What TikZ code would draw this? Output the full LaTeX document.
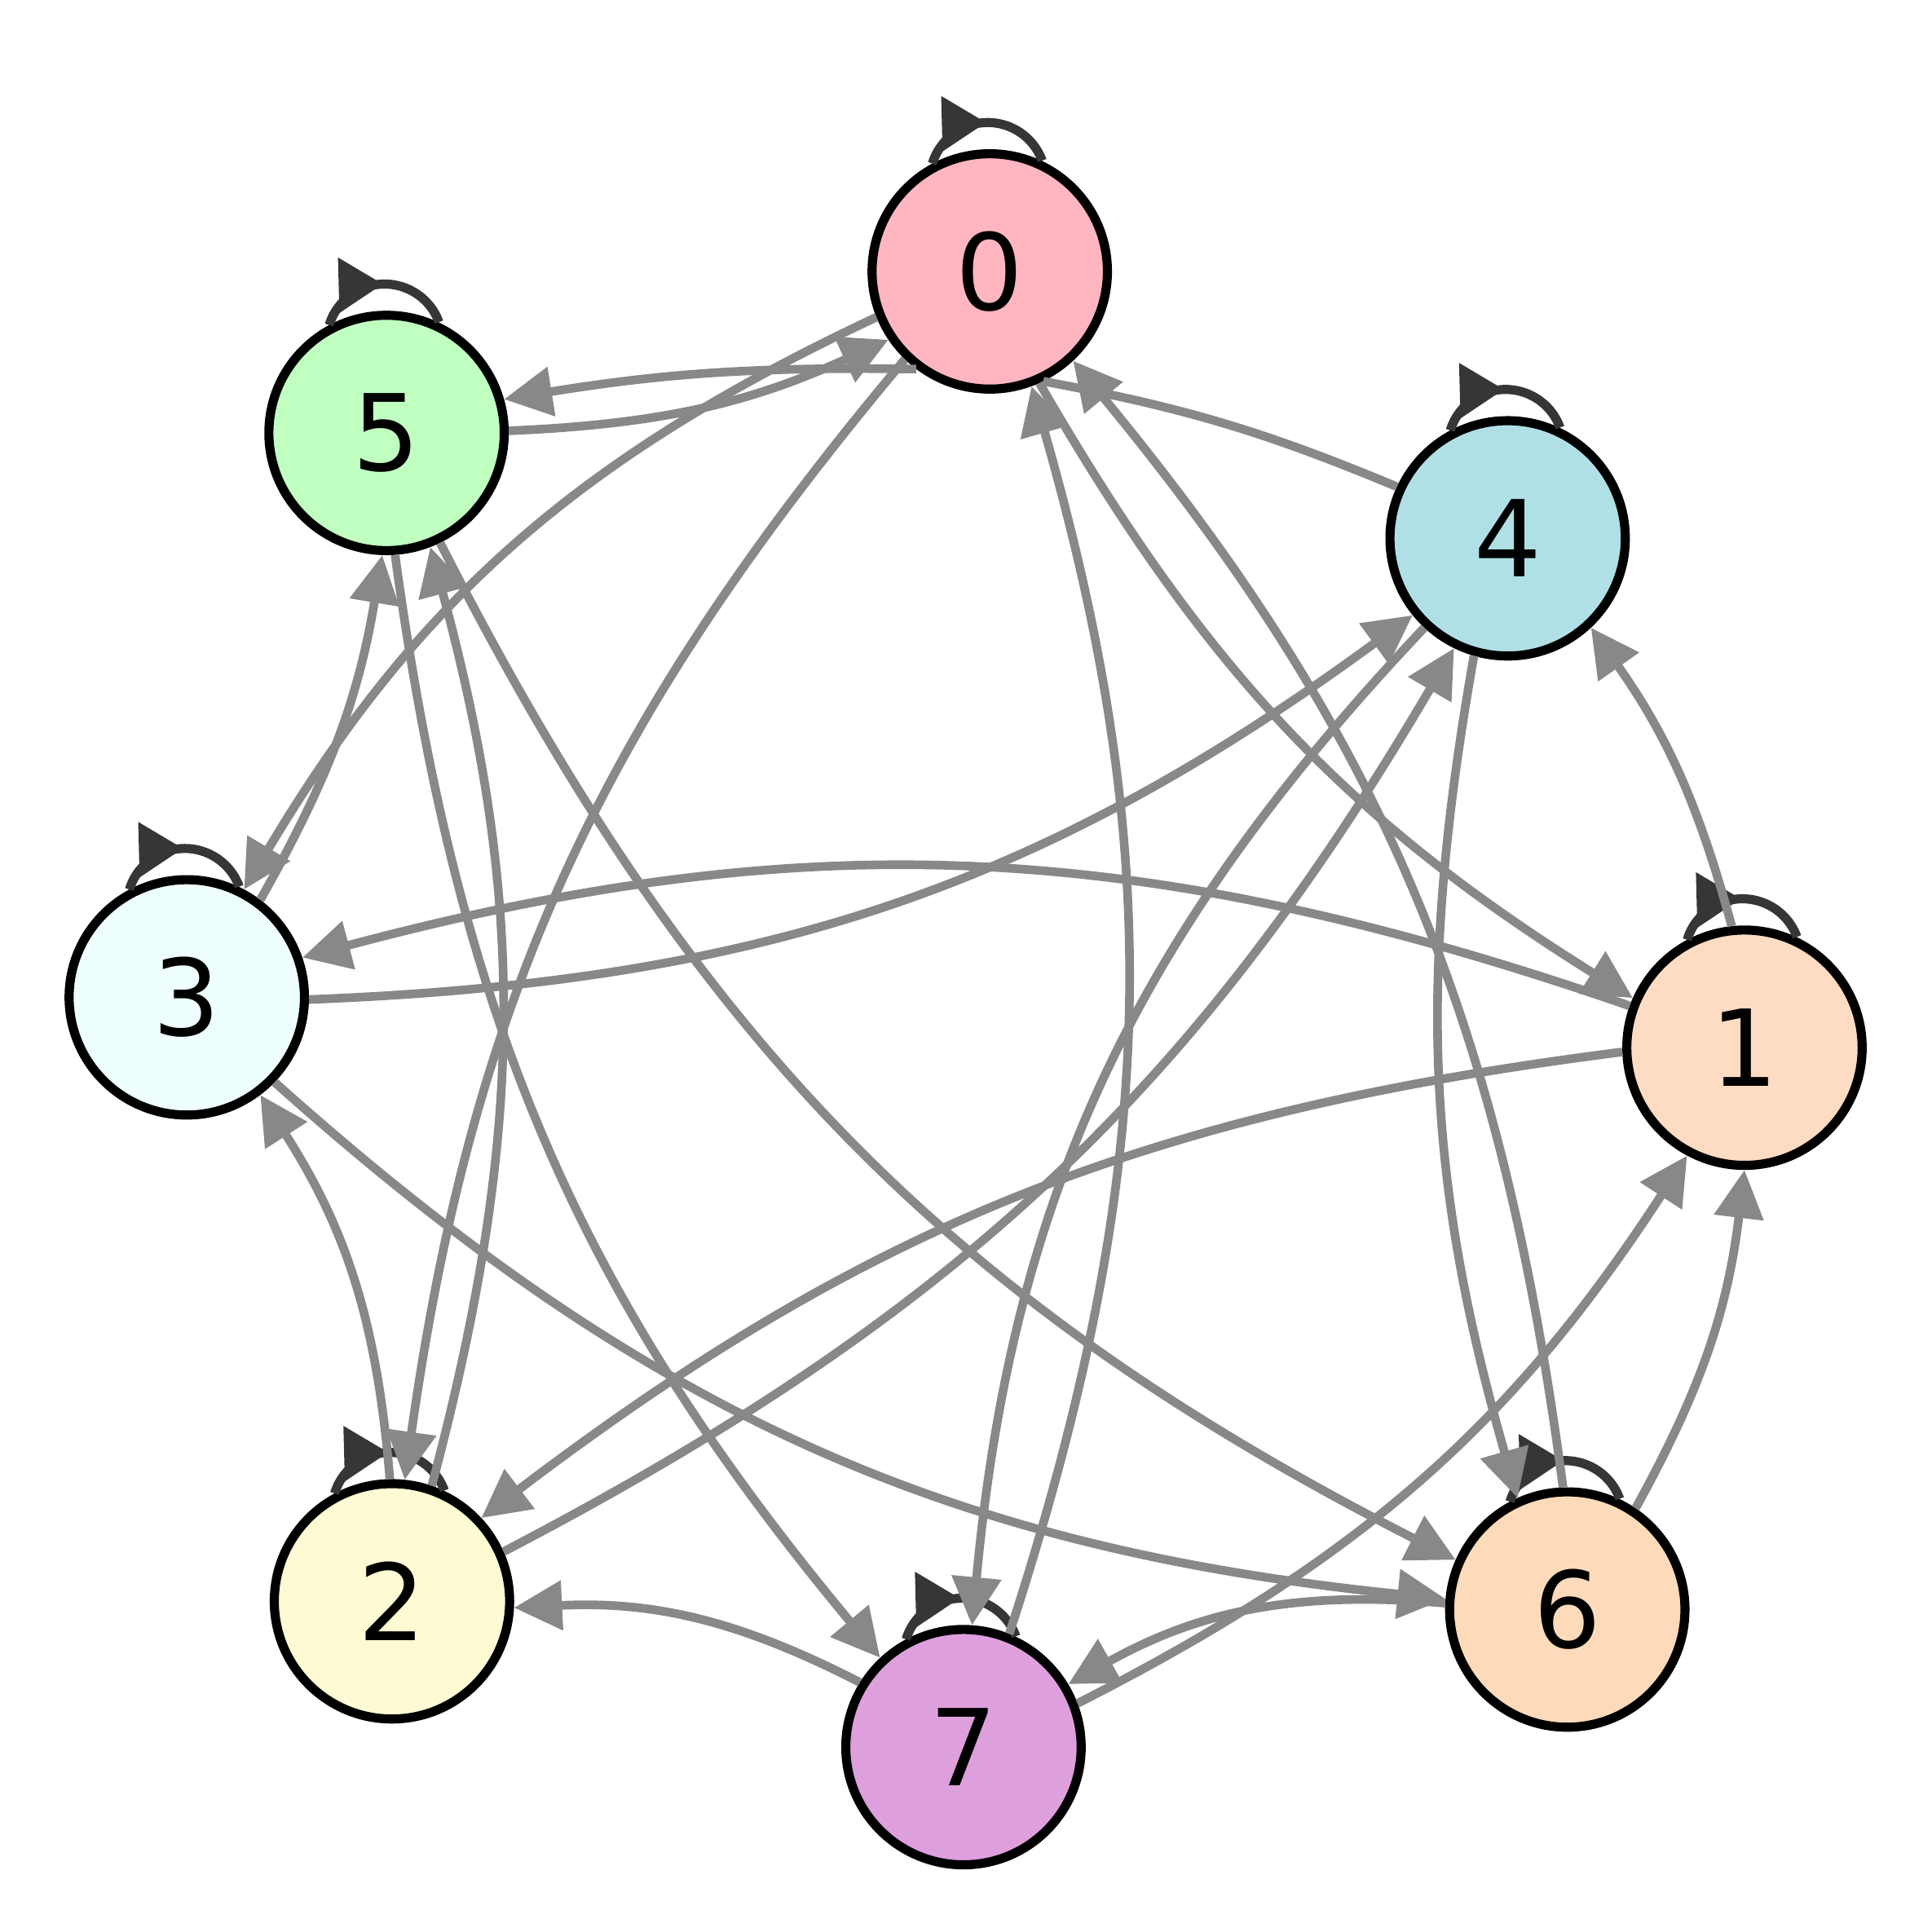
\documentclass[tikz,border=0pt]{standalone}
\usepackage{fontspec}
\setmainfont{DejaVu Sans}
\usepackage{tikz}
\usepackage{xcolor}
\usetikzlibrary{arrows.meta,decorations.markings}

\definecolor{pink0}{HTML}{FFB6C1}
\definecolor{peach1}{HTML}{FDDCC3}
\definecolor{yellow2}{HTML}{FEFBD4}
\definecolor{cyan3}{HTML}{EEFDFD}
\definecolor{blue4}{HTML}{B0E0E6}
\definecolor{green5}{HTML}{C1FFC1}
\definecolor{peach6}{HTML}{FDDBBA}
\definecolor{plum7}{HTML}{DDA0DD}
\definecolor{linkgray}{HTML}{888888}
\definecolor{loopgray}{HTML}{363636}

\begin{document}
\begin{tikzpicture}[every node/.style={circle, draw, line width=2.1pt, minimum size=1.91cm, inner sep=0pt, font=\fontsize{24.5}{28}\selectfont},
                    link/.style={draw=linkgray, line width=2pt, -{Triangle[length=3.9mm, width=3.9mm]}},
                    selfloop/.style={color=loopgray, line width=2.1pt, postaction={decorate},
                      decoration={markings, mark=at position 0.5 with {\arrow{Triangle[length=3.6mm, width=4.3mm]}}}}]
                    \useasboundingbox (-7.85,-7.32) rectangle (7.83,8.36);

                    \node[fill=pink0] (n0) at (88.3:6.16) {0};
                    \node[fill=peach1] (n1) at (-1.3:6.31) {1};
                    \node[fill=yellow2] (n2) at (224.8:6.58) {2};
                    \node[fill=cyan3] (n3) at (177.6:6.34) {3};
                    \node[fill=blue4] (n4) at (42.3:5.93) {4};
                    \node[fill=green5] (n5) at (134.2:6.76) {5};
                    \node[fill=peach6] (n6) at (-44:6.77) {6};
                    \node[fill=plum7] (n7) at (269.7:5.82) {7};

                    % self loops
                    \draw[selfloop] (n0.118) arc[start angle=163, end angle=20, radius=0.47];
                    \draw[selfloop] (n1.118) arc[start angle=163, end angle=20, radius=0.47];
                    \draw[selfloop] (n2.118) arc[start angle=163, end angle=20, radius=0.47];
                    \draw[selfloop] (n3.118) arc[start angle=163, end angle=20, radius=0.47];
                    \draw[selfloop] (n4.118) arc[start angle=163, end angle=20, radius=0.47];
                    \draw[selfloop] (n5.118) arc[start angle=163, end angle=20, radius=0.47];
                    \draw[selfloop] (n6.118) arc[start angle=163, end angle=20, radius=0.47];
                    \draw[selfloop] (n7.118) arc[start angle=163, end angle=20, radius=0.47];

                    \draw[link] (n0.233) to[bend right=5] (n5.16);
                    \draw[link] (n5.1) to[bend right=11] (n0.214);
                    \draw[link] (n0.202) to[bend right=17] (n3.62);
                    \draw[link] (n0.226) to[bend right=16] (n2.84);
                    \draw[link] (n0.294) to[bend right=14] (n1.156);
                    \draw[link] (n5.274) to[bend right=16] (n7.133);
                    \draw[link] (n5.296) to[bend right=18] (n6.156);
                    \draw[link] (n3.53) to[bend right=10] (n5.268);
                    \draw[link] (n2.71) to[bend right=15] (n5.291);
                    \draw[link] (n3.359) to[bend right=17] (n4.219);
                    \draw[link] (n1.160) to[bend right=17] (n3.19);
                    \draw[link] (n3.316) to[bend right=18] (n6.175);
                    \draw[link] (n2.91) to[bend right=14] (n3.307);
                    \draw[link] (n1.96) to[bend right=10] (n4.313);
                    \draw[link] (n1.182) to[bend right=15] (n2.43);
                    \draw[link] (n7.21) to[bend right=15] (n1.242);
                    \draw[link] (n6.56) to[bend right=11] (n1.270);
                    \draw[link] (n6.92) to[bend right=16] (n0.313);
                    \draw[link] (n6.177) to[bend right=17] (n7.31);
                    \draw[link] (n7.148) to[bend right=15] (n2.357);
                    \draw[link] (n2.24) to[bend right=16] (n4.244);
                    \draw[link] (n4.227) to[bend right=19] (n7.86);
                    \draw[link] (n4.254) to[bend right=13] (n6.114);
                    \draw[link] (n7.68) to[bend right=17] (n0.290);
                    \draw[link, -] (n4.155) to[bend right=6] (n0.296);
                \end{tikzpicture}
\end{document}
